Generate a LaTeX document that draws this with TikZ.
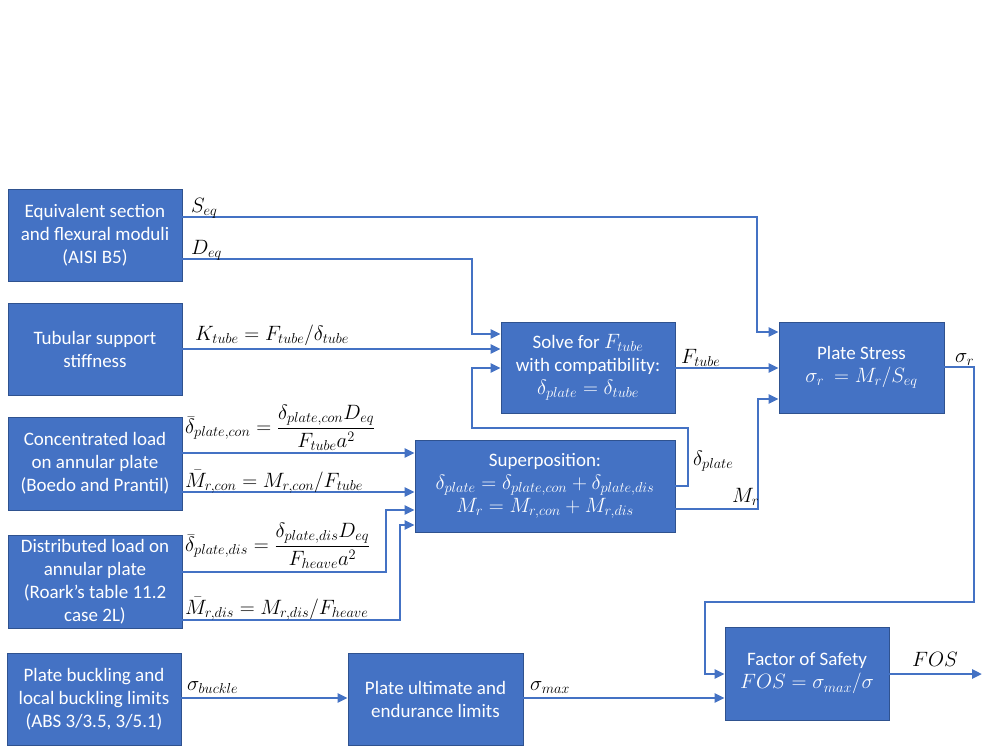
\documentclass[tikz,border=0pt]{standalone}
\usepackage{amsmath}
\usepackage{fontspec}
\setmainfont{Carlito}
\DeclareMathSizes{19}{20.5}{15.5}{12}
\DeclareMathSizes{20}{20}{15.5}{12}
\usetikzlibrary{arrows.meta}
\definecolor{boxblue}{HTML}{4472C4}
\definecolor{boxedge}{HTML}{2F528F}
\begin{document}
\begin{tikzpicture}[x=1pt,y=-1pt,
  box/.style={draw=boxedge, line width=0.8pt, fill=boxblue, text=white, align=center, inner sep=0pt, font=\fontsize{19}{23}\selectfont},
  arr/.style={draw=boxblue, line width=2.8pt, -{Triangle[length=10pt,width=9pt]}},
  lbl/.style={font=\fontsize{20}{22}\selectfont, inner sep=0pt}]
\useasboundingbox (0,0) rectangle (987,752);
% boxes
\node[box, minimum width=174pt, minimum height=92pt] (A) at (95,235) {Equivalent section\\and flexural moduli\\(AISI B5)};
\node[box, minimum width=174pt, minimum height=92pt] (B) at (95,349) {Tubular support\\stiffness};
\node[box, minimum width=174pt, minimum height=93pt] (C) at (95,463.5) {Concentrated load\\on annular plate\\(Boedo and Prantil)};
\node[box, minimum width=174pt, minimum height=93pt] (D) at (95,581.5) {Distributed load on\\annular plate\\(Roark’s table 11.2\\case 2L)};
\node[box, minimum width=174pt, minimum height=92pt] (E) at (94,699) {Plate buckling and\\local buckling limits\\(ABS 3/3.5, 3/5.1)};
\node[box, minimum width=175pt, minimum height=92pt] (F) at (435.5,699) {Plate ultimate and\\endurance limits};
\node[box, minimum width=164pt, minimum height=93pt] (G) at (807,673.5) {Factor of Safety\\$FOS = \sigma_{max}/\sigma$};
\node[box, minimum width=174pt, minimum height=91pt] (S) at (588,367.5) {Solve for $F_{tube}$\\with compatibility:\\$\delta_{plate} = \delta_{tube}$};
\node[box, minimum width=165pt, minimum height=91pt] (P) at (861.5,367.5) {Plate Stress\\$\sigma_r\ = M_r/S_{eq}$};
\node[box, minimum width=260pt, minimum height=92pt] (U) at (545,486) {Superposition:\\$\delta_{plate} = \delta_{plate,con} + \delta_{plate,dis}$\\$M_r = M_{r,con} + M_{r,dis}$};
% connectors
\draw[arr] (A.east |- 0,217) -| (757,332) -- (P.west |- 0,332);
\draw[arr] (A.east |- 0,259) -| (472,334) -- (S.west |- 0,334);
\draw[arr] (B.east |- 0,349) -- (S.west |- 0,349);
\draw[arr] (U.east |- 0,486) -| (688,428) -| (472,368) -- (S.west |- 0,368);
\draw[arr] (S.east |- 0,368) -- (P.west |- 0,368);
\draw[arr] (U.east |- 0,509) -| (758,399) -- (P.west |- 0,399);
\draw[arr] (P.east |- 0,367) -| (974,602) -| (705,674) -- (G.west |- 0,674);
\coordinate (out) at (982,674);
\draw[arr] (G.east |- out) -- (out);
\draw[arr] (C.east |- 0,453) -- (U.west |- 0,453);
\draw[arr] (C.east |- 0,492) -- (U.west |- 0,492);
\draw[arr] (D.east |- 0,572) -| (386,510) -- (U.west |- 0,510);
\draw[arr] (D.east |- 0,620) -| (400,525) -- (U.west |- 0,525);
\draw[arr] (E.east |- 0,698) -- (F.west |- 0,698);
\draw[arr] (F.east |- 0,698) -- (G.west |- 0,698);
% labels
\node[lbl, anchor=base west] (lS) at (191,212) {$S_{eq}$};
\node[lbl, anchor=base west] (lD) at (191,254) {$D_{eq}$};
\node[lbl, anchor=base west] (lK) at (195,340) {$K_{tube} = F_{tube}/\delta_{tube}$};
\node[lbl, anchor=base west] (lF) at (681,363) {$F_{tube}$};
\node[lbl, anchor=base west] (lsr) at (955,362) {$\sigma_r$};
\node[lbl, anchor=base west] (ldp) at (693,465) {$\delta_{plate}$};
\node[lbl, anchor=base west] (lMr) at (732,502) {$M_r$};
\node[lbl, anchor=west] (lfc) at (185,428) {$\bar{\delta}_{plate,con} = \dfrac{\delta_{plate,con}D_{eq}}{F_{tube}a^2}$};
\node[lbl, anchor=base west] (lMc) at (185,487) {$\bar{M}_{r,con} = M_{r,con}/F_{tube}$};
\node[lbl, anchor=west] (lfd) at (185,546) {$\bar{\delta}_{plate,dis} = \dfrac{\delta_{plate,dis}D_{eq}}{F_{heave}a^2}$};
\node[lbl, anchor=base west] (lMd) at (185,614) {$\bar{M}_{r,dis} = M_{r,dis}/F_{heave}$};
\node[lbl, anchor=base west] (lsb) at (187,690) {$\sigma_{buckle}$};
\node[lbl, anchor=base west] (lsm) at (530,690) {$\sigma_{max}$};
\node[lbl, anchor=base west] (lfos) at (912,666) {$FOS$};
\end{tikzpicture}
\end{document}
